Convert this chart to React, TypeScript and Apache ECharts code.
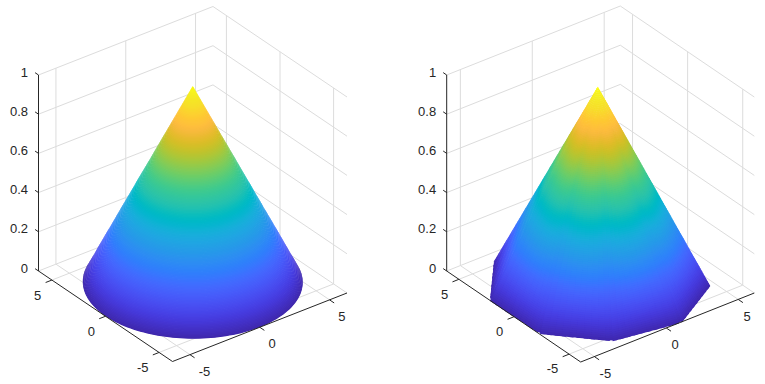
import React, { useEffect, useRef } from "react";
import * as echarts from "echarts";

const xTicks = [-5, 0, 5];
const yTicks = [-5, 0, 5];
const zTicks = [0, 0.2, 0.4, 0.6, 0.8, 1];
const zTickLabels = ["0", "0.2", "0.4", "0.6", "0.8", "1"];

// Left panel: a round cone
const coneRadius = 6.25;
const coneApex = [0, 0, 1];

const polygonApex = [-0.08, 0.06, 1];
const polygonRimX = [-3.25, -5.99, -5.93, -3.21, 1.02, 4.64, 6.0, 2.0];
const polygonRimY = [5.34, 2.13, -2.33, -5.38, -6.12, -3.99, 0.8, 5.9];

const parula = [
  [0.2422, 0.1504, 0.6603], [0.2504, 0.165, 0.7076], [0.2578, 0.1818, 0.7511], [0.2647, 0.1978, 0.7952],
  [0.2706, 0.2147, 0.8364], [0.2751, 0.2342, 0.871], [0.2783, 0.2559, 0.8991], [0.2803, 0.2782, 0.9221],
  [0.2813, 0.3006, 0.9414], [0.281, 0.3228, 0.9579], [0.2795, 0.3447, 0.9717], [0.276, 0.3667, 0.9829],
  [0.2699, 0.3892, 0.9906], [0.2602, 0.4123, 0.9952], [0.244, 0.4358, 0.9988], [0.2206, 0.4603, 0.9973],
  [0.1963, 0.4847, 0.9892], [0.1834, 0.5074, 0.9798], [0.1786, 0.5289, 0.9682], [0.1764, 0.5499, 0.952],
  [0.1687, 0.5703, 0.9359], [0.154, 0.5902, 0.9218], [0.146, 0.6091, 0.9079], [0.138, 0.6276, 0.8973],
  [0.1248, 0.6459, 0.8883], [0.1113, 0.6635, 0.8763], [0.0952, 0.6798, 0.8598], [0.0689, 0.6948, 0.8394],
  [0.0297, 0.7082, 0.8163], [0.0036, 0.7203, 0.7917], [0.0067, 0.7312, 0.766], [0.0433, 0.7411, 0.7394],
  [0.0964, 0.75, 0.712], [0.1408, 0.7584, 0.6842], [0.1717, 0.767, 0.6554], [0.1938, 0.7758, 0.6251],
  [0.2161, 0.7843, 0.5923], [0.247, 0.7918, 0.5567], [0.2906, 0.7973, 0.5188], [0.3406, 0.8008, 0.4789],
  [0.3909, 0.8029, 0.4354], [0.4456, 0.8024, 0.3909], [0.5044, 0.7993, 0.348], [0.5616, 0.7942, 0.3045],
  [0.6174, 0.7876, 0.2612], [0.672, 0.7793, 0.2227], [0.7242, 0.7698, 0.191], [0.7738, 0.7598, 0.1646],
  [0.8203, 0.7498, 0.1535], [0.8634, 0.7406, 0.1596], [0.9035, 0.733, 0.1774], [0.9393, 0.7288, 0.21],
  [0.9728, 0.7298, 0.2394], [0.9956, 0.7434, 0.2371], [0.997, 0.7659, 0.2199], [0.9952, 0.7861, 0.199],
  [0.9892, 0.8134, 0.1885], [0.9786, 0.8422, 0.1766], [0.9676, 0.8725, 0.1619], [0.961, 0.89, 0.1535],
  [0.9597, 0.9106, 0.1423], [0.9626, 0.9369, 0.1263], [0.9691, 0.9606, 0.1064], [0.9763, 0.9831, 0.0538],
];

const GRID_COLOR = "#dcdcdc";
const AXIS_COLOR = "#262626";
const FONT = "Liberation Sans";
const ROUND_RINGS = 180;
const ROUND_STEPS = 180;
const FLAT_RINGS = 120;
const EDGE_STEPS = 10;
const OVERLAP = 0.6;

type P = { corner: number[]; xVec: number[]; yVec: number[]; xLim: number[]; yLim: number[]; zPx: number; xOff: number[]; yOff: number[]; zOff: number[] };

const leftPanel: P = {
  corner: [172.5, 361.5], xVec: [174.5, -68.5], yVec: [-134, -90.5],
  xLim: [-6.25, 6.25], yLim: [-6.25, 6.25], zPx: 196,
  xOff: [8.8, 16.5], yOff: [-10.6, 15], zOff: [-10.5, -3],
};
const rightPanel: P = {
  corner: [580.7, 362], xVec: [173.6, -69], yVec: [-134, -91],
  xLim: [-5.95, 6.12], yLim: [-6.05, 6.11], zPx: 196,
  xOff: [5.2, 17], yOff: [-10.8, 14.7], zOff: [-10.5, -3],
};

const project = (p: P, x: number, y: number, z: number) => {
  const u = (x - p.xLim[0]) / (p.xLim[1] - p.xLim[0]);
  const v = (y - p.yLim[0]) / (p.yLim[1] - p.yLim[0]);
  return [
    p.corner[0] + u * p.xVec[0] + v * p.yVec[0],
    p.corner[1] + u * p.xVec[1] + v * p.yVec[1] - z * p.zPx,
  ];
};

const colorAt = (z: number) => {
  const t = Math.max(0, Math.min(1, z)) * (parula.length - 1);
  const i = Math.min(parula.length - 2, Math.floor(t));
  const f = t - i;
  const c = parula[i].map((v, k) => Math.round((v + (parula[i + 1][k] - v) * f) * 255));
  return `rgb(${c[0]},${c[1]},${c[2]})`;
};

type Seg = { a: number[]; b: number[] };
type Cell = { pts: number[][]; color: string };
type Label = { at: number[]; text: string; align: string };

const facing = (q: number[][]) => {
  let s = 0;
  for (let i = 0; i < q.length; i++) {
    const a = q[i];
    const b = q[(i + 1) % q.length];
    s += a[0] * b[1] - b[0] * a[1];
  }
  return s < 0;
};

const wallSegments = (p: P) => {
  const s: Seg[] = [];
  const [x0, x1] = p.xLim;
  const [y0, y1] = p.yLim;
  xTicks.forEach((x) => {
    s.push({ a: project(p, x, y1, 0), b: project(p, x, y1, 1) });
    s.push({ a: project(p, x, y0, 0), b: project(p, x, y1, 0) });
  });
  yTicks.forEach((y) => {
    s.push({ a: project(p, x1, y, 0), b: project(p, x1, y, 1) });
    s.push({ a: project(p, x0, y, 0), b: project(p, x1, y, 0) });
  });
  zTicks.forEach((z) => {
    s.push({ a: project(p, x0, y1, z), b: project(p, x1, y1, z) });
    s.push({ a: project(p, x1, y1, z), b: project(p, x1, y0, z) });
  });
  return s;
};

const axisSegments = (p: P) => {
  const s: Seg[] = [];
  const [x0, x1] = p.xLim;
  const [y0, y1] = p.yLim;
  s.push({ a: project(p, x0, y1, 0), b: project(p, x0, y1, 1) });
  s.push({ a: project(p, x0, y0, 0), b: project(p, x0, y1, 0) });
  s.push({ a: project(p, x0, y0, 0), b: project(p, x1, y0, 0) });
  xTicks.forEach((x) => s.push({ a: project(p, x, y0, 0), b: project(p, x, y0 - 0.43, 0) }));
  yTicks.forEach((y) => s.push({ a: project(p, x0, y, 0), b: project(p, x0 - 0.45, y, 0) }));
  zTicks.forEach((z) => s.push({ a: project(p, x0, y1, z), b: project(p, x0, y1 + 0.32, z) }));
  return s;
};

const panelLabels = (p: P) => {
  const out: Label[] = [];
  const [x0] = p.xLim;
  const [y0, y1] = p.yLim;
  xTicks.forEach((x) => {
    const q = project(p, x, y0, 0);
    out.push({ at: [q[0] + p.xOff[0], q[1] + p.xOff[1]], text: String(x), align: "left" });
  });
  yTicks.forEach((y) => {
    const q = project(p, x0, y, 0);
    out.push({ at: [q[0] + p.yOff[0], q[1] + p.yOff[1]], text: String(y), align: "right" });
  });
  zTicks.forEach((z, i) => {
    const q = project(p, x0, y1, z);
    out.push({ at: [q[0] + p.zOff[0], q[1] + p.zOff[1]], text: zTickLabels[i], align: "right" });
  });
  return out;
};

const fanPoint = (p: P, apex: number[], r: number[], t: number) => {
  const x = apex[0] + (r[0] - apex[0]) * t;
  const y = apex[1] + (r[1] - apex[1]) * t;
  return { x, y, s: project(p, x, y, 1 - t) };
};

// The rim pieces that face the viewer, as one unbroken run.
const visibleRun = (p: P, apex: number[], rim: number[][]) => {
  const n = rim.length;
  const seen = rim.map((a, j) => {
    const b = rim[(j + 1) % n];
    return facing([project(p, apex[0], apex[1], 1), project(p, a[0], a[1], 0), project(p, b[0], b[1], 0)]);
  });
  let start = seen.findIndex((v, j) => v && !seen[(j - 1 + n) % n]);
  if (start < 0) start = 0;
  const run: number[] = [];
  for (let k = 0; k < n; k++) {
    const j = (start + k) % n;
    if (seen[j]) run.push(j);
  }
  return run;
};

// Round cone: one band per ring, outermost first, each lapping the one below.
const roundBands = (p: P, apex: number[], rim: number[][], rings: number) => {
  const cells: Cell[] = [];
  const run = visibleRun(p, apex, rim);
  const ends = [...run, (run[run.length - 1] + 1) % rim.length];
  for (let i = rings - 1; i >= 0; i--) {
    const t0 = i / rings;
    const t1 = Math.min(1, (i + 1 + OVERLAP) / rings);
    const outer = ends.map((j) => fanPoint(p, apex, rim[j], t1).s);
    const inner = ends.map((j) => fanPoint(p, apex, rim[j], t0).s).reverse();
    cells.push({ pts: [...outer, ...inner], color: colorAt(1 - (i + 0.5) / rings) });
  }
  return cells;
};

// Sampled surface: colour also changes along the rim, so it needs separate cells.
const fanCells = (p: P, apex: number[], rim: number[][], rings: number, colorHeight: (x: number, y: number, t: number) => number) => {
  const cells: Cell[] = [];
  const n = rim.length;
  const run = visibleRun(p, apex, rim);
  for (let i = rings - 1; i >= 0; i--) {
    const t0 = i / rings;
    const t1 = (i + 1) / rings;
    const tOut = Math.min(1, (i + 1 + OVERLAP) / rings);
    run.forEach((j, order) => {
      const a = rim[j];
      const b = rim[(j + 1) % n];
      const c = rim[(j + 2) % n];
      const last = order === run.length - 1;
      const e = last ? b : [b[0] + (c[0] - b[0]) * OVERLAP, b[1] + (c[1] - b[1]) * OVERLAP];
      const q = [fanPoint(p, apex, a, t0), fanPoint(p, apex, a, tOut), fanPoint(p, apex, e, tOut), fanPoint(p, apex, e, t0)];
      const mid = fanPoint(p, apex, [(a[0] + b[0]) / 2, (a[1] + b[1]) / 2], (t0 + t1) / 2);
      cells.push({ pts: q.map((d) => d.s), color: colorAt(colorHeight(mid.x, mid.y, (t0 + t1) / 2)) });
    });
  }
  return cells;
};

const roundRim = () => {
  const r: number[][] = [];
  for (let k = 0; k < ROUND_STEPS; k++) {
    const th = (k / ROUND_STEPS) * 2 * Math.PI;
    r.push([coneRadius * Math.cos(th), coneRadius * Math.sin(th)]);
  }
  return r;
};

const polygonRim = () => {
  const r: number[][] = [];
  polygonRimX.forEach((x, i) => {
    const n = (i + 1) % polygonRimX.length;
    for (let k = 0; k < EDGE_STEPS; k++) {
      const f = k / EDGE_STEPS;
      r.push([x + (polygonRimX[n] - x) * f, polygonRimY[i] + (polygonRimY[n] - polygonRimY[i]) * f]);
    }
  });
  return r;
};

const segments = [...wallSegments(leftPanel), ...wallSegments(rightPanel)];
const axes = [...axisSegments(leftPanel), ...axisSegments(rightPanel)];
const labels = [...panelLabels(leftPanel), ...panelLabels(rightPanel)];
const cells = [
  ...roundBands(leftPanel, coneApex, roundRim(), ROUND_RINGS),
  ...fanCells(rightPanel, polygonApex, polygonRim(), FLAT_RINGS, (x, y, t) => {
    const round = 1 - Math.hypot(x - polygonApex[0], y - polygonApex[1]) / coneRadius;
    const w = t * t;
    return (1 - w) * round + w * (1 - t);
  }),
];

const lineSeries = (list: Seg[], color: string, z: number) => ({
  type: "custom",
  coordinateSystem: "cartesian2d",
  silent: true,
  clip: false,
  z,
  progressive: 0,
  data: list.map((s) => [s.a[0], s.a[1]]),
  renderItem: (params: any, api: any) => {
    const s = list[params.dataIndex];
    const a = api.coord(s.a);
    const b = api.coord(s.b);
    return {
      type: "line",
      shape: { x1: a[0], y1: a[1], x2: b[0], y2: b[1] },
      style: { stroke: color, lineWidth: 1, fill: "none" },
    };
  },
});

export default function App() {
  const ref = useRef<HTMLDivElement>(null);
  useEffect(() => {
    const chart = echarts.init(ref.current!, undefined, { renderer: "svg" });
    chart.setOption({
      animation: false,
      backgroundColor: "#ffffff",
      grid: { left: 0, top: 0, right: 0, bottom: 0 },
      xAxis: { type: "value", min: 0, max: 765, show: false },
      yAxis: { type: "value", min: 0, max: 384, inverse: true, show: false },
      series: [
        lineSeries(segments, GRID_COLOR, 1),
        {
          type: "custom",
          coordinateSystem: "cartesian2d",
          silent: true,
          clip: false,
          z: 2,
          progressive: 0,
          data: cells.map((c) => [c.pts[0][0], c.pts[0][1]]),
          renderItem: (params: any, api: any) => {
            const c = cells[params.dataIndex];
            return {
              type: "polygon",
              shape: { points: c.pts.map((q) => api.coord(q)) },
              style: { fill: c.color, stroke: "none" },
            };
          },
        },
        lineSeries(axes, AXIS_COLOR, 3),
        {
          type: "custom",
          coordinateSystem: "cartesian2d",
          silent: true,
          clip: false,
          z: 4,
          data: labels.map((l) => l.at),
          renderItem: (params: any, api: any) => {
            const l = labels[params.dataIndex];
            const q = api.coord(l.at);
            return {
              type: "text",
              x: q[0],
              y: q[1],
              style: {
                text: l.text,
                fill: AXIS_COLOR,
                font: `13px "${FONT}"`,
                align: l.align,
                verticalAlign: "middle",
              },
            };
          },
        },
      ],
    });
    return () => chart.dispose();
  }, []);
  return <div ref={ref} style={{ position: "absolute", left: 0, top: 0, width: 765, height: 384 }} />;
}
